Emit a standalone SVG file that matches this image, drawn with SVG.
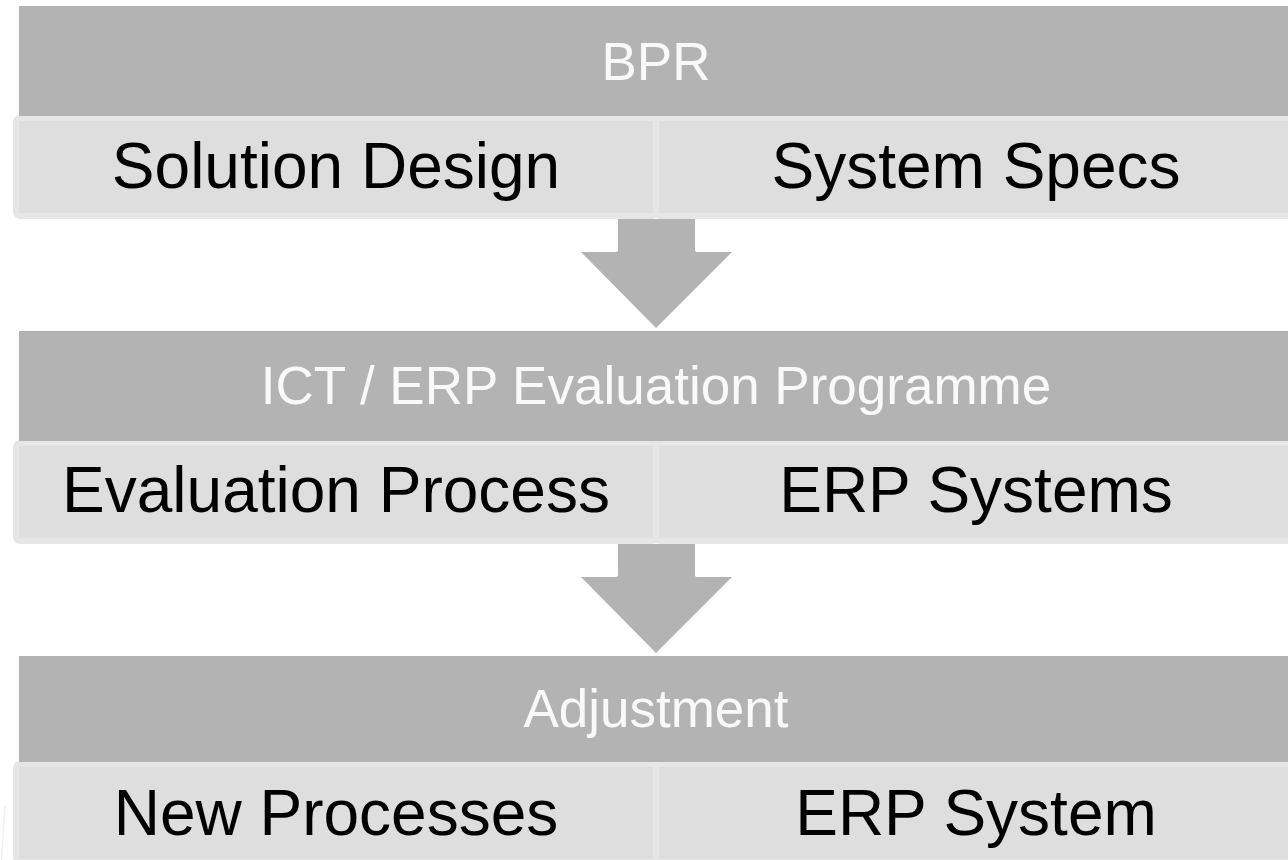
<svg xmlns="http://www.w3.org/2000/svg" width="1288" height="860" viewBox="0 0 1288 860">
  <style>
    .hdr { fill: #b3b3b3; }
    .cell { fill: #dedede; stroke: #e6e6e6; stroke-width: 6; }
    .arrow { fill: #b3b3b3; }
    .ht { font-family: "Liberation Sans", Arial, sans-serif; font-size: 53px; fill: #f9f9f9; text-anchor: middle; }
    .ct { font-family: "Liberation Sans", Arial, sans-serif; font-size: 64px; fill: #000000; text-anchor: middle; }
  </style>
  <rect x="0" y="0" width="1288" height="860" fill="#ffffff"/>
  <path d="M5 806 L1.5 860" stroke="#f0f0f0" stroke-width="1.5" fill="none"/>

  <g id="connectors">
    <path class="arrow" d="M618 219 L695 219 L695 250 Q695 252 697 252 L732 252 L656 328 L581 252 L616 252 Q618 252 618 250 Z"/>
    <path class="arrow" d="M618 544 L695 544 L695 575 Q695 577 697 577 L732 577 L656 653 L581 577 L616 577 Q618 577 618 575 Z"/>
  </g>

  <g id="block1">
    <g id="solution-design">
      <rect class="cell" x="16" y="118" width="640" height="98" rx="4"/>
      <text class="ct" x="336" y="188">Solution Design</text>
    </g>
    <g id="system-specs">
      <rect class="cell" x="656" y="118" width="640" height="98" rx="4"/>
      <text class="ct" x="976" y="188">System Specs</text>
    </g>
    <g id="bpr">
      <rect class="hdr" x="19" y="6" width="1280" height="110"/>
      <text class="ht" x="656" y="80">BPR</text>
    </g>
  </g>

  <g id="block2">
    <g id="evaluation-process">
      <rect class="cell" x="16" y="443" width="640" height="98" rx="4"/>
      <text class="ct" x="336" y="512">Evaluation Process</text>
    </g>
    <g id="erp-systems">
      <rect class="cell" x="656" y="443" width="640" height="98" rx="4"/>
      <text class="ct" x="976" y="512">ERP Systems</text>
    </g>
    <g id="ict-erp">
      <rect class="hdr" x="19" y="331" width="1280" height="110"/>
      <text class="ht" x="656" y="404">ICT / ERP Evaluation Programme</text>
    </g>
  </g>

  <g id="block3">
    <g id="new-processes">
      <rect class="cell" x="16" y="764" width="640" height="98" rx="4"/>
      <text class="ct" x="336" y="835">New Processes</text>
    </g>
    <g id="erp-system">
      <rect class="cell" x="656" y="764" width="640" height="98" rx="4"/>
      <text class="ct" x="976" y="835">ERP System</text>
    </g>
    <g id="adjustment">
      <rect class="hdr" x="19" y="656" width="1280" height="106"/>
      <text class="ht" x="656" y="727">Adjustment</text>
    </g>
  </g>
</svg>
